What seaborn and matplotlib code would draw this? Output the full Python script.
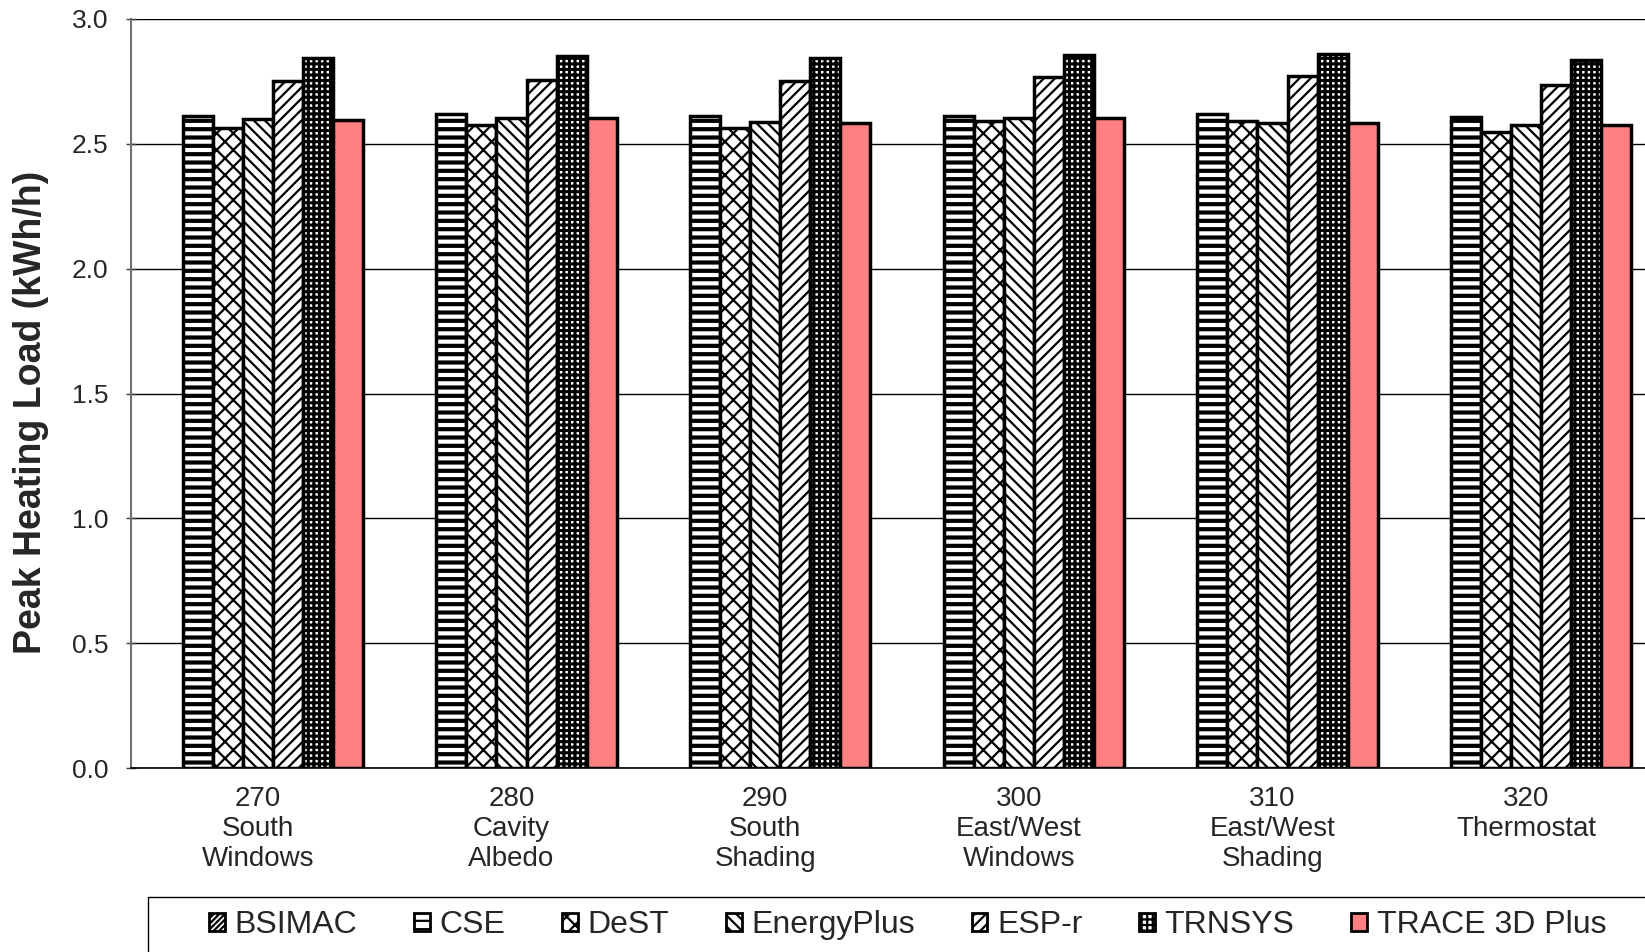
import numpy as np
import pandas as pd
import matplotlib
matplotlib.use("Agg")
import matplotlib.pyplot as plt
import seaborn as sns
from matplotlib.patches import Patch, Rectangle

categories = ["270\nSouth\nWindows", "280\nCavity\nAlbedo", "290\nSouth\nShading",
              "300\nEast/West\nWindows", "310\nEast/West\nShading", "320\nThermostat"]
series = ["BSIMAC", "CSE", "DeST", "EnergyPlus", "ESP-r", "TRNSYS", "TRACE 3D Plus"]

bsimac = [np.nan, np.nan, np.nan, np.nan, np.nan, np.nan]
cse = [2.613, 2.618, 2.613, 2.613, 2.618, 2.609]
dest = [2.563, 2.576, 2.563, 2.592, 2.592, 2.546]
energyplus = [2.601, 2.605, 2.588, 2.605, 2.584, 2.576]
espr = [2.752, 2.756, 2.752, 2.769, 2.773, 2.735]
trnsys = [2.845, 2.853, 2.845, 2.857, 2.861, 2.836]
trace = [2.597, 2.605, 2.584, 2.605, 2.584, 2.576]

values = [bsimac, cse, dest, energyplus, espr, trnsys, trace]

rows = []
for s, vals in zip(series, values):
    for c, v in zip(categories, vals):
        rows.append({"case": c, "program": s, "load": v})
df = pd.DataFrame(rows)

hatches = {"BSIMAC": "//////", "CSE": "--", "DeST": "xx", "EnergyPlus": "\\\\\\",
           "ESP-r": "///", "TRNSYS": "+++", "TRACE 3D Plus": ""}
hatch_lw = {"BSIMAC": 2.0, "CSE": 3.0, "DeST": 1.6, "EnergyPlus": 1.6,
            "ESP-r": 1.6, "TRNSYS": 2.2, "TRACE 3D Plus": 1.0}
faces = {s: "white" for s in series}
faces["TRACE 3D Plus"] = "#FF8080"

sns.set_theme(style="white")
plt.rcParams["font.family"] = ["Liberation Sans", "DejaVu Sans"]
plt.rcParams["hatch.linewidth"] = 1.6

fig = plt.figure(figsize=(16.45, 9.52), dpi=100)
ax = fig.add_axes([131 / 1645, 1 - 768 / 952, (1653 - 131) / 1645, (768 - 19) / 952])

W = 0.83
sns.barplot(data=df.dropna(), x="case", y="load", hue="program", hue_order=series,
            order=categories, palette=faces, width=W, errorbar=None,
            edgecolor="black", linewidth=2.5, ax=ax, legend=False)

nser = len(series)
for p in ax.patches:
    cx = p.get_x() + p.get_width() / 2
    off = cx - round(cx)
    idx = int(round((off + W / 2) / (W / nser) - 0.5))
    idx = min(max(idx, 0), nser - 1)
    s = series[idx]
    p.set_hatch(hatches[s])
    if hasattr(p, "set_hatch_linewidth"):
        p.set_hatch_linewidth(hatch_lw[s])
    p.set_facecolor(faces[s])
    p.set_edgecolor("black")

ax.set_ylim(0, 3.0)
ax.set_xlim(-0.5, len(categories) - 0.5)
ax.set_yticks(np.arange(0, 3.01, 0.5))
ax.set_yticklabels([f"{v:.1f}" for v in np.arange(0, 3.01, 0.5)], fontsize=19)
ax.yaxis.grid(True, color="black", linewidth=1.0)
ax.set_axisbelow(True)
ax.set_xticks(range(len(categories)))
ax.set_xticklabels(categories, fontsize=20, linespacing=1.2)
ax.set_xticks(np.arange(-0.5, len(categories), 1.0), minor=True)
ax.tick_params(axis="x", which="major", length=0, pad=13)
ax.tick_params(axis="x", which="minor", length=7, width=1, color="#404040", direction="inout")
ax.tick_params(axis="y", which="major", length=7, width=1, color="#404040", direction="inout", pad=13, left=True)
ax.set_xlabel("")
ax.set_ylabel("Peak Heating Load (kWh/h)", fontsize=27, fontweight="bold", labelpad=16)
ax.yaxis.label.set_y(0.475)

for side in ["top", "right"]:
    ax.spines[side].set_visible(False)
ax.spines["left"].set_color("#707070")
ax.spines["left"].set_linewidth(1.5)
ax.spines["bottom"].set_color("black")
ax.spines["bottom"].set_linewidth(1.2)

# legend frame (extends beyond the figure edges like the reference)
fig.patches.append(Rectangle((148 / 1645, -0.05), 1.2, (1 - 897 / 952) + 0.05,
                             transform=fig.transFigure, facecolor="white",
                             edgecolor="black", linewidth=1.0, zorder=0))

handles = []
for s in series:
    h = Patch(facecolor=faces[s], edgecolor="black", hatch=hatches[s], linewidth=2.0)
    handles.append(h)
leg = fig.legend(handles, series, loc="center left", bbox_to_anchor=(209 / 1645, 1 - 925 / 952),
                 ncol=7, fontsize=23, frameon=False, handlelength=0.5,
                 handleheight=0.5, handletextpad=0.3, columnspacing=1.77, borderpad=0,
                 borderaxespad=0)

fig.savefig("out.png", dpi=100)
